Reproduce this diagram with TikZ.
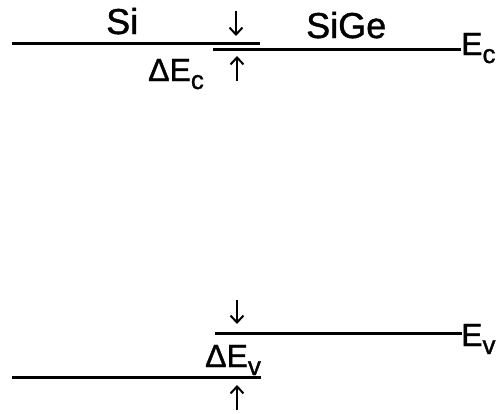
\documentclass[tikz,border=0pt]{standalone}
\usepackage{fontspec}
\setmainfont{Liberation Sans}[FakeBold=1.2]
\usetikzlibrary{arrows.meta}
\newcommand{\subl}[1]{\raisebox{-8pt}{\fontsize{26}{26}\selectfont #1}}
\begin{document}
\begin{tikzpicture}[x=1pt,y=-1pt,
  band/.style={line width=3pt},
  marker/.style={line width=2pt,-{Straight Barb[length=7pt,width=13pt,line width=2pt]}},
  big/.style={inner sep=0pt,anchor=base west,font=\fontsize{36}{36}\selectfont},
  lab/.style={inner sep=0pt,anchor=base west,font=\fontsize{32}{32}\selectfont}]
\useasboundingbox (0,0) rectangle (501,413);
% conduction band
\coordinate (sicL) at (12,43);
\coordinate (sicR) at (260,43);
\coordinate (sgcL) at (213,49);
\coordinate (sgcR) at (461,49);
\draw[band] (sicL) -- (sicR);
\draw[band] (sgcL) -- (sgcR);
\node[big] (si) at (106,34) {Si};
\node[big] (sige) at (306,38) {SiGe};
\node[lab] (ec) at (461,55) {E\subl{c}};
\node[lab] (dec) at (148,81) {ΔE\subl{c}};
\coordinate (ca1) at (236,11);
\coordinate (ca2) at (236,36);
\coordinate (cb1) at (237,81);
\coordinate (cb2) at (237,56);
\draw[marker] (ca1) -- (ca2);
\draw[marker] (cb1) -- (cb2);
% valence band
\coordinate (sgvL) at (215,333);
\coordinate (sgvR) at (462,333);
\coordinate (sivL) at (12,377);
\coordinate (sivR) at (261,377);
\draw[band] (sgvL) -- (sgvR);
\draw[band] (sivL) -- (sivR);
\node[lab] (ev) at (461,346) {E\subl{v}};
\node[lab] (dev) at (205,367) {ΔE\subl{v}};
\coordinate (va1) at (237,300);
\coordinate (va2) at (237,324);
\coordinate (vb1) at (237,410);
\coordinate (vb2) at (237,385);
\draw[marker] (va1) -- (va2);
\draw[marker] (vb1) -- (vb2);
\end{tikzpicture}
\end{document}
